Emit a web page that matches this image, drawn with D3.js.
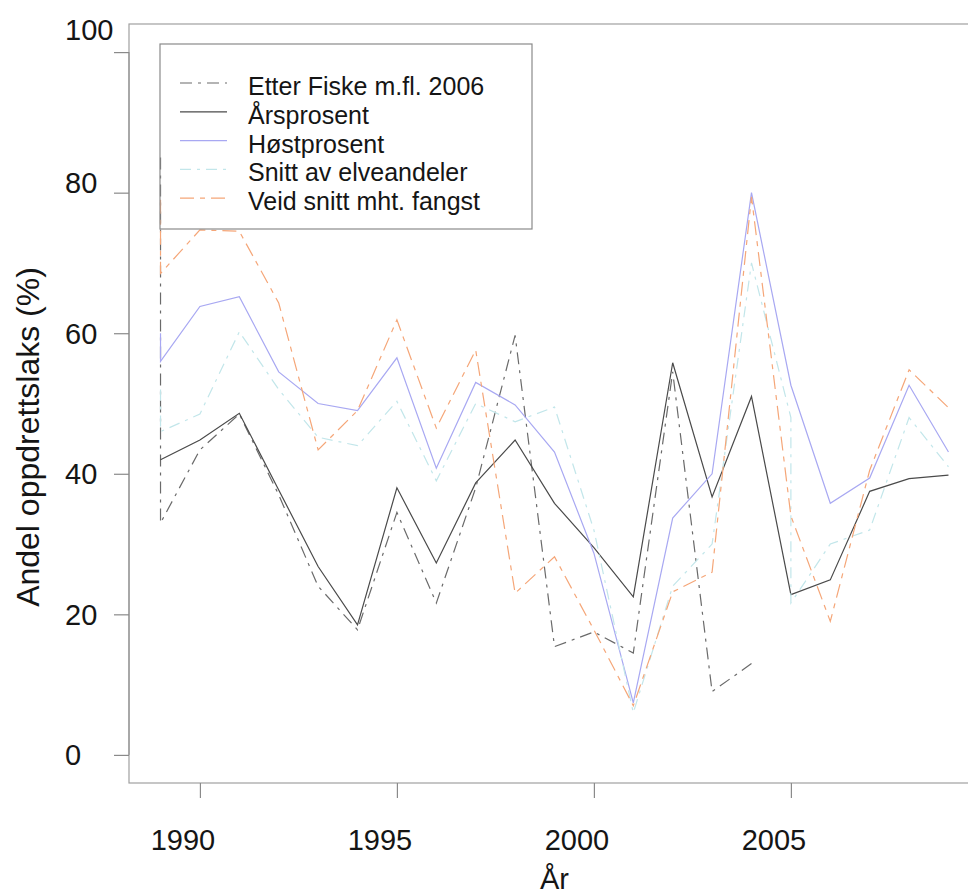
<!DOCTYPE html>
<html>
<head>
<meta charset="utf-8">
<script src="https://cdn.jsdelivr.net/npm/d3@7"></script>
<style>
  html, body { margin: 0; padding: 0; background: #fff; }
  svg { display: block; }
  text { font-family: "Liberation Sans", Arial, sans-serif; fill: #151515; }
</style>
</head>
<body>
<svg id="chart" width="968" height="895"></svg>
<script>
// Andel oppdrettslaks i elvene, 1989–2009, etter fem beregningsmåter.
// Some series carry two readings for the same year (drawn as a vertical step).

const fiskeYears  = [1989, 1989, 1990, 1991, 1992, 1993, 1994, 1995, 1996, 1997, 1998, 1999, 2000, 2001, 2002, 2003, 2004];
const fiskeValues = [85, 33, 43.4, 48.5, 37, 24, 17.8, 34.5, 21.6, 38, 59.7, 15.4, 17.5, 14.5, 54.5, 9, 13];

const arsYears  = [1989, 1990, 1991, 1992, 1993, 1994, 1995, 1996, 1997, 1998, 1999, 2000, 2001, 2002, 2003, 2004, 2005, 2006, 2007, 2008, 2009];
const arsValues = [42, 44.8, 48.6, 37.7, 26.8, 18.5, 38, 27.3, 38.7, 44.8, 35.8, 29.5, 22.5, 55.8, 36.7, 51, 22.8, 24.9, 37.5, 39.3, 39.8];

const hostYears  = [1989, 1989, 1990, 1991, 1992, 1993, 1994, 1995, 1996, 1997, 1998, 1999, 2000, 2001, 2002, 2003, 2004, 2005, 2006, 2007, 2008, 2009];
const hostValues = [60, 56, 63.8, 65.2, 54.5, 50, 49, 56.5, 40.8, 53, 49.8, 43.1, 28.7, 7.4, 33.7, 40, 80, 52.6, 35.8, 39.4, 52.6, 43.1];

const snittYears  = [1989, 1989, 1990, 1991, 1992, 1993, 1994, 1995, 1996, 1997, 1998, 1999, 2000, 2001, 2002, 2003, 2004, 2005, 2005, 2006, 2007, 2008, 2009];
const snittValues = [52, 46, 48.5, 60.2, 52, 45.2, 44, 50.3, 39, 50, 47.4, 49.5, 32, 6, 24, 30, 70, 48, 21.6, 30, 32, 48, 41];

const veidYears  = [1989, 1989, 1990, 1991, 1992, 1993, 1994, 1995, 1996, 1997, 1998, 1999, 2000, 2001, 2002, 2003, 2004, 2005, 2006, 2007, 2008, 2009];
const veidValues = [79, 68.5, 74.7, 74.5, 64.3, 43.4, 49, 61.9, 46.5, 57.6, 23, 28.2, 17.8, 7, 23.2, 26, 79.4, 34, 19, 40.5, 54.8, 49.4];

const seriesNames = ["Etter Fiske m.fl. 2006", "Årsprosent", "Høstprosent", "Snitt av elveandeler", "Veid snitt mht. fangst"];

const xTicks = [1990, 1995, 2000, 2005];
const yTicks = [0, 20, 40, 60, 80, 100];

const xTitle = "År";
const yTitle = "Andel oppdrettslaks (%)";

// ---- drawing ----
const svg = d3.select("#chart");

// data range padded by 4 % on each side, as in a base-graphics plot
const x = d3.scaleLinear().domain([1988.2, 2009.8]).range([129, 980]);
const y = d3.scaleLinear().domain([-4, 104]).range([783, 24]);

const styles = [
  { color: "#6a6a6a", dash: "12,6,3,6", width: 1.2 },
  { color: "#4a4a4a", dash: null,       width: 1.2 },
  { color: "#a8a8f2", dash: null,       width: 1.2 },
  { color: "#c2e6ea", dash: "11,6,3,6", width: 1.2 },
  { color: "#f5a678", dash: "14,6,5,6", width: 1.2 }
];

const series = [
  d3.zip(fiskeYears, fiskeValues),
  d3.zip(arsYears, arsValues),
  d3.zip(hostYears, hostValues),
  d3.zip(snittYears, snittValues),
  d3.zip(veidYears, veidValues)
];

// plot frame
svg.append("rect")
  .attr("x", x(1988.2)).attr("y", y(104))
  .attr("width", x(2009.8) - x(1988.2)).attr("height", y(-4) - y(104))
  .attr("fill", "none").attr("stroke", "#a0a0a0").attr("stroke-width", 1.2);

// y axis
const yAxis = svg.append("g").attr("transform", `translate(${x(1988.2)},0)`)
  .call(d3.axisLeft(y).tickValues(yTicks).tickSize(15).tickFormat(""));
yAxis.select(".domain").attr("stroke", "#8a8a8a").attr("d", `M0,${y(0)}V${y(100)}`);
yAxis.selectAll(".tick line").attr("stroke", "#8a8a8a").attr("stroke-width", 1.2);

// tick labels sit left-aligned in the margin; the top two ride a little high
const yLabelNudge = { 80: -10, 100: -23 };
svg.append("g").selectAll("text").data(yTicks).join("text")
  .attr("x", 65)
  .attr("y", d => y(d) + (yLabelNudge[d] || 0))
  .attr("dy", "0.36em")
  .attr("font-size", 29)
  .text(d => d);

// x axis
const xAxis = svg.append("g").attr("transform", `translate(0,${y(-4)})`)
  .call(d3.axisBottom(x).tickValues(xTicks).tickSize(15).tickFormat(""));
xAxis.select(".domain").attr("stroke", "none");
xAxis.selectAll(".tick line").attr("stroke", "#8a8a8a").attr("stroke-width", 1.2);

svg.append("g").selectAll("text").data(xTicks).join("text")
  .attr("x", d => x(d) - 17)
  .attr("y", 850)
  .attr("text-anchor", "middle")
  .attr("font-size", 29)
  .text(d => d);

// axis titles
svg.append("text")
  .attr("x", (x(1988.2) + x(2009.8)) / 2)
  .attr("y", 889)
  .attr("text-anchor", "middle")
  .attr("font-size", 29)
  .text(xTitle);

svg.append("text")
  .attr("transform", `translate(39,437) rotate(-90)`)
  .attr("text-anchor", "middle")
  .attr("font-size", 32)
  .text(yTitle);

// series lines
const line = d3.line().x(d => x(d[0])).y(d => y(d[1]));
svg.append("g").selectAll("path").data(series).join("path")
  .attr("d", line)
  .attr("fill", "none")
  .attr("stroke", (d, i) => styles[i].color)
  .attr("stroke-width", (d, i) => styles[i].width)
  .attr("stroke-dasharray", (d, i) => styles[i].dash)
  .attr("stroke-linejoin", "miter");

// legend (transparent box anchored at the first year)
const lg = svg.append("g");
lg.append("rect")
  .attr("x", 160).attr("y", 44).attr("width", 372).attr("height", 185)
  .attr("fill", "none").attr("stroke", "#8a8a8a").attr("stroke-width", 1.2);

const rowY = i => 95 + i * 28.8;
seriesNames.forEach((name, i) => {
  lg.append("line")
    .attr("x1", 180).attr("x2", 227)
    .attr("y1", rowY(i) - 12).attr("y2", rowY(i) - 12)
    .attr("stroke", styles[i].color)
    .attr("stroke-width", styles[i].width)
    .attr("stroke-dasharray", styles[i].dash);
  lg.append("text")
    .attr("x", 248).attr("y", rowY(i))
    .attr("font-size", 25)
    .text(name);
});
</script>
</body>
</html>
